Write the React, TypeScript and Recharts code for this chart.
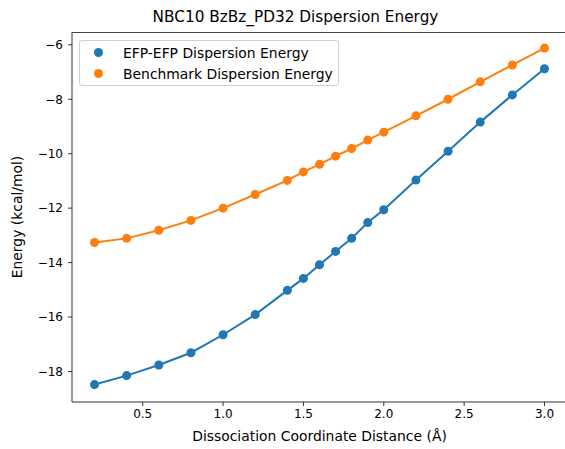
import { Line, LineChart, XAxis, YAxis } from "recharts"

const distances = [0.2, 0.4, 0.6, 0.8, 1.0, 1.2, 1.4, 1.5, 1.6, 1.7, 1.8, 1.9, 2.0, 2.2, 2.4, 2.6, 2.8, 3.0]
const efpEnergy = [-18.48, -18.15, -17.76, -17.31, -16.65, -15.91, -15.02, -14.58, -14.08, -13.59, -13.11, -12.53, -12.06, -10.97, -9.91, -8.84, -7.84, -6.88]
const benchmarkEnergy = [-13.26, -13.11, -12.81, -12.45, -12.0, -11.5, -10.98, -10.67, -10.39, -10.09, -9.81, -9.5, -9.21, -8.61, -8.0, -7.36, -6.74, -6.12]
const xTicks = [0.5, 1.0, 1.5, 2.0, 2.5, 3.0]
const yTicks = [-18, -16, -14, -12, -10, -8, -6]

const data = distances.map((d, i) => ({ x: d, efp: efpEnergy[i], bench: benchmarkEnergy[i] }))

const BLUE = "#1f77b4"
const ORANGE = "#ff7f0e"
const FONT = "DejaVu Sans, sans-serif"
const X_DOMAIN = [0.06, 3.14]
const Y_DOMAIN = [-19.12, -5.53]

const fmtMinus = (v: number) => String(v).replace("-", "\u2212")

function LegendBox() {
  const items = [
    { label: "EFP-EFP Dispersion Energy", color: BLUE },
    { label: "Benchmark Dispersion Energy", color: ORANGE },
  ]
  return (
    <div
      style={{
        position: "absolute",
        left: 79,
        top: 40,
        border: "1px solid #d0d0d0",
        borderRadius: 3,
        background: "rgba(255,255,255,0.8)",
        width: 260,
        height: 46,
        boxSizing: "border-box",
        fontFamily: FONT,
        fontSize: 13.9,
        color: "#000",
        paddingTop: 1,
      }}
    >
      {items.map((it) => (
        <div key={it.label} style={{ display: "flex", alignItems: "center", height: 21 }}>
          <span
            style={{
              display: "inline-block",
              width: 9,
              height: 9,
              borderRadius: "50%",
              background: it.color,
              marginLeft: 14,
              marginRight: 20,
            }}
          />
          <span>{it.label}</span>
        </div>
      ))}
    </div>
  )
}

export default function App() {
  return (
    <div style={{ position: "absolute", left: 0, top: 0, width: 565, height: 449, overflow: "hidden", background: "#fff" }}>
      <LineChart width={580} height={449} data={data} margin={{ top: 32, right: 13, left: 0, bottom: 0 }}>
        <XAxis
          dataKey="x"
          type="number"
          domain={X_DOMAIN}
          ticks={xTicks}
          tickFormatter={(v: number) => v.toFixed(1)}
          height={47}
          tickSize={4}
          tickMargin={3}
          stroke="#333"
          tick={{ fill: "#000", fontSize: 12, fontFamily: FONT }}
          allowDataOverflow
        />
        <YAxis
          type="number"
          domain={Y_DOMAIN}
          ticks={yTicks}
          tickFormatter={fmtMinus}
          width={72}
          tickSize={4}
          tickMargin={5}
          stroke="#333"
          tick={{ fill: "#000", fontSize: 12, fontFamily: FONT }}
          allowDataOverflow
        />
        <Line
          dataKey="efp"
          stroke={BLUE}
          strokeWidth={2}
          dot={{ r: 4.5, fill: BLUE, stroke: "none" }}
          activeDot={false}
          isAnimationActive={false}
        />
        <Line
          dataKey="bench"
          stroke={ORANGE}
          strokeWidth={2}
          dot={{ r: 4.5, fill: ORANGE, stroke: "none" }}
          activeDot={false}
          isAnimationActive={false}
        />
      </LineChart>
      {/* top spine of the axes frame (right spine falls outside the crop) */}
      <div style={{ position: "absolute", left: 72, top: 32, width: 500, height: 1, background: "#444", zIndex: 5, pointerEvents: "none" }} />
      <LegendBox />
      <div style={{ position: "absolute", left: 0, width: 591, top: 8, textAlign: "center", fontFamily: FONT, fontSize: 15.3, color: "#000" }}>
        NBC10 BzBz_PD32 Dispersion Energy
      </div>
      <div style={{ position: "absolute", left: 72, width: 495, top: 428, textAlign: "center", fontFamily: FONT, fontSize: 13.9, color: "#000" }}>
        Dissociation Coordinate Distance (Å)
      </div>
      <div
        style={{
          position: "absolute",
          left: 17,
          top: 217,
          transform: "translate(-50%, -50%) rotate(-90deg)",
          whiteSpace: "nowrap",
          fontFamily: FONT,
          fontSize: 13.9,
          color: "#000",
        }}
      >
        Energy (kcal/mol)
      </div>
    </div>
  )
}
